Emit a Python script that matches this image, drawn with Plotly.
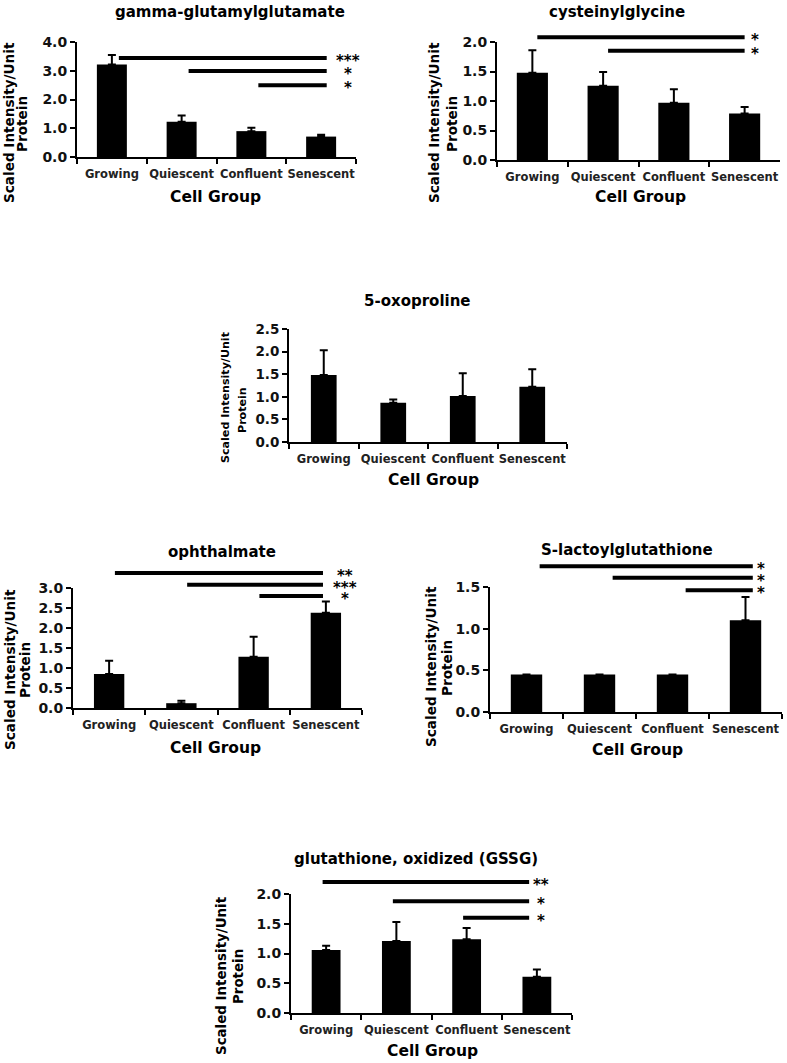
import plotly.graph_objects as go

W, H = 787, 1063
groups = ["Growing", "Quiescent", "Confluent", "Senescent"]

# ---- data ----
gg_title = "gamma-glutamylglutamate"
gg_mean = [3.22, 1.23, 0.90, 0.71]
gg_err = [0.33, 0.21, 0.12, 0.06]
gg_sig_from = [0, 1, 2]
gg_sig_level = [3.44, 2.99, 2.50]
gg_sig_label = ["***", "*", "*"]

cg_title = "cysteinylglycine"
cg_mean = [1.48, 1.26, 0.97, 0.79]
cg_err = [0.38, 0.23, 0.23, 0.11]
cg_sig_from = [0, 1]
cg_sig_level = [2.08, 1.85]
cg_sig_label = ["*", "*"]

op_title = "5-oxoproline"
op_mean = [1.48, 0.87, 1.02, 1.22]
op_err = [0.55, 0.07, 0.50, 0.39]
op_sig_from = []
op_sig_level = []
op_sig_label = []

oph_title = "ophthalmate"
oph_mean = [0.85, 0.12, 1.28, 2.38]
oph_err = [0.33, 0.06, 0.50, 0.28]
oph_sig_from = [0, 1, 2]
oph_sig_level = [3.375, 3.08, 2.80]
oph_sig_label = ["**", "***", "*"]

sl_title = "S-lactoylglutathione"
sl_mean = [0.45, 0.45, 0.45, 1.10]
sl_err = [None, None, None, 0.28]
sl_sig_from = [0, 1, 2]
sl_sig_level = [1.75, 1.61, 1.46]
sl_sig_label = ["*", "*", "*"]

gssg_title = "glutathione, oxidized (GSSG)"
gssg_mean = [1.06, 1.21, 1.24, 0.61]
gssg_err = [0.07, 0.32, 0.19, 0.12]
gssg_sig_from = [0, 1, 2]
gssg_sig_level = [2.20, 1.88, 1.60]
gssg_sig_label = ["**", "*", "*"]

y_title_1 = "Scaled Intensity/Unit"
y_title_2 = "Protein"
x_title = "Cell Group"

# ---- layout / style per panel (pixel positions) ----
panels = [
    dict(title=gg_title, mean=gg_mean, err=gg_err, sf=gg_sig_from, sy=gg_sig_level, sl=gg_sig_label,
         box=(77, 42, 356, 157), ymax=4.0, dtick=1.0, bw=0.43,
         t=(230, 12), xt=(215, 197), yt=(9, 22, 123, 124), ytf=13.6,
         s_off=0.10, s_end=3.08, star_dx=21),
    dict(title=cg_title, mean=cg_mean, err=cg_err, sf=cg_sig_from, sy=cg_sig_level, sl=cg_sig_label,
         box=(497, 42, 780, 160), ymax=2.0, dtick=0.5, bw=0.44,
         t=(617, 12), xt=(640, 197), yt=(434, 452, 123, 124), ytf=13.6,
         s_off=0.07, s_end=3.0, star_dx=10),
    dict(title=op_title, mean=op_mean, err=op_err, sf=op_sig_from, sy=op_sig_level, sl=op_sig_label,
         box=(289, 329, 567, 442), ymax=2.5, dtick=0.5, bw=0.37,
         t=(418, 301), xt=(433, 480), yt=(225, 243, 397, 410), ytf=11.1,
         s_off=0.1, s_end=3.0, star_dx=10),
    dict(title=oph_title, mean=oph_mean, err=oph_err, sf=oph_sig_from, sy=oph_sig_level, sl=oph_sig_label,
         box=(73, 588, 362, 708), ymax=3.0, dtick=0.5, bw=0.42,
         t=(222, 552), xt=(215, 748), yt=(10, 25, 670, 670), ytf=13.6,
         s_off=0.08, s_end=2.96, star_dx=22),
    dict(title=sl_title, mean=sl_mean, err=sl_err, sf=sl_sig_from, sy=sl_sig_level, sl=sl_sig_label,
         box=(490, 587, 782, 712), ymax=1.5, dtick=0.5, bw=0.43,
         t=(627, 550), xt=(637, 750), yt=(431, 447, 667, 668), ytf=13.6,
         s_off=0.18, s_end=3.1, star_dx=8),
    dict(title=gssg_title, mean=gssg_mean, err=gssg_err, sf=gssg_sig_from, sy=gssg_sig_level, sl=gssg_sig_label,
         box=(291, 894, 572, 1013), ymax=2.0, dtick=0.5, bw=0.41,
         t=(416, 859), xt=(432, 1051), yt=(221, 238, 976, 977), ytf=13.4,
         s_off=-0.05, s_end=2.89, star_dx=12),
]

FONT = "DejaVu Sans"


def px(x):
    return x / W


def py(y):
    return 1 - y / H


fig = go.Figure()
annotations = []
shapes = []
layout_axes = {}

for i, p in enumerate(panels, start=1):
    xa = "x" if i == 1 else f"x{i}"
    ya = "y" if i == 1 else f"y{i}"
    x0, y0, x1, y1 = p["box"]
    fig.add_trace(go.Bar(
        x=groups, y=p["mean"], xaxis=xa, yaxis=ya, width=p["bw"],
        marker=dict(color="black", line=dict(width=0)),
        error_y=dict(type="data", array=p["err"], arrayminus=[0] * 4, symmetric=False,
                     color="black", thickness=2, width=4, visible=True),
        showlegend=False, hoverinfo="x+y",
    ))
    xkey = "xaxis" if i == 1 else f"xaxis{i}"
    ykey = "yaxis" if i == 1 else f"yaxis{i}"
    layout_axes[xkey] = dict(
        domain=[px(x0), px(x1)], anchor=ya, type="category", range=[-0.5, 3.5],
        showline=True, linecolor="black", linewidth=2, ticks="outside", ticklen=5,
        tickwidth=2, tickcolor="black", tickson="boundaries", showgrid=False,
        tickangle=0, automargin=False, ticklabelstandoff=5,
        tickfont=dict(family=FONT, size=11.5, color="#222", weight="bold"),
        fixedrange=True,
    )
    layout_axes[ykey] = dict(
        domain=[py(y1), py(y0)], anchor=xa, range=[0, p["ymax"]], tick0=0, dtick=p["dtick"],
        tickformat=".1f", showline=True, linecolor="black", linewidth=2, ticks="outside",
        ticklen=5, tickwidth=2, tickcolor="black", showgrid=False, zeroline=False,
        automargin=False,
        tickfont=dict(family=FONT, size=14 if i != 3 else 13.5, color="#111", weight="bold"),
        fixedrange=True,
    )
    # title
    annotations.append(dict(text=p["title"], x=px(p["t"][0]), y=py(p["t"][1]), xref="paper", yref="paper",
                            xanchor="center", yanchor="middle", showarrow=False,
                            font=dict(family=FONT, size=15, color="black", weight="bold")))
    # x title
    annotations.append(dict(text=x_title, x=px(p["xt"][0]), y=py(p["xt"][1]), xref="paper", yref="paper",
                            xanchor="center", yanchor="middle", showarrow=False,
                            font=dict(family=FONT, size=15.5, color="black", weight="bold")))
    # y title (two lines)
    l1x, l2x, l1y, l2y = p["yt"]
    for txt, xx, yy in ((y_title_1, l1x, l1y), (y_title_2, l2x, l2y)):
        annotations.append(dict(text=txt, x=px(xx), y=py(yy), xref="paper", yref="paper",
                                xanchor="center", yanchor="middle", textangle=-90, showarrow=False,
                                font=dict(family=FONT, size=p["ytf"], color="black", weight="bold")))
    # significance lines + stars
    for g, lev, lab in zip(p["sf"], p["sy"], p["sl"]):
        shapes.append(dict(type="line", xref=xa, yref=f"{ya} domain",
                           x0=g + p["s_off"], x1=p["s_end"], y0=lev / p["ymax"], y1=lev / p["ymax"],
                           line=dict(color="black", width=4)))
        annotations.append(dict(text=lab, xref=xa, yref=f"{ya} domain", x=p["s_end"], y=lev / p["ymax"],
                                xanchor="center", yanchor="middle", xshift=p["star_dx"], yshift=-3,
                                showarrow=False,
                                font=dict(family=FONT, size=15, color="black", weight="bold")))

fig.update_layout(
    width=W, height=H, autosize=False,
    margin=dict(l=0, r=0, t=0, b=0, pad=0, autoexpand=False),
    paper_bgcolor="white", plot_bgcolor="white",
    annotations=annotations, shapes=shapes, bargap=0.5,
    **layout_axes,
)

fig.write_html("out.html", config={"displayModeBar": False},
               post_script="document.body.style.margin='0';")
